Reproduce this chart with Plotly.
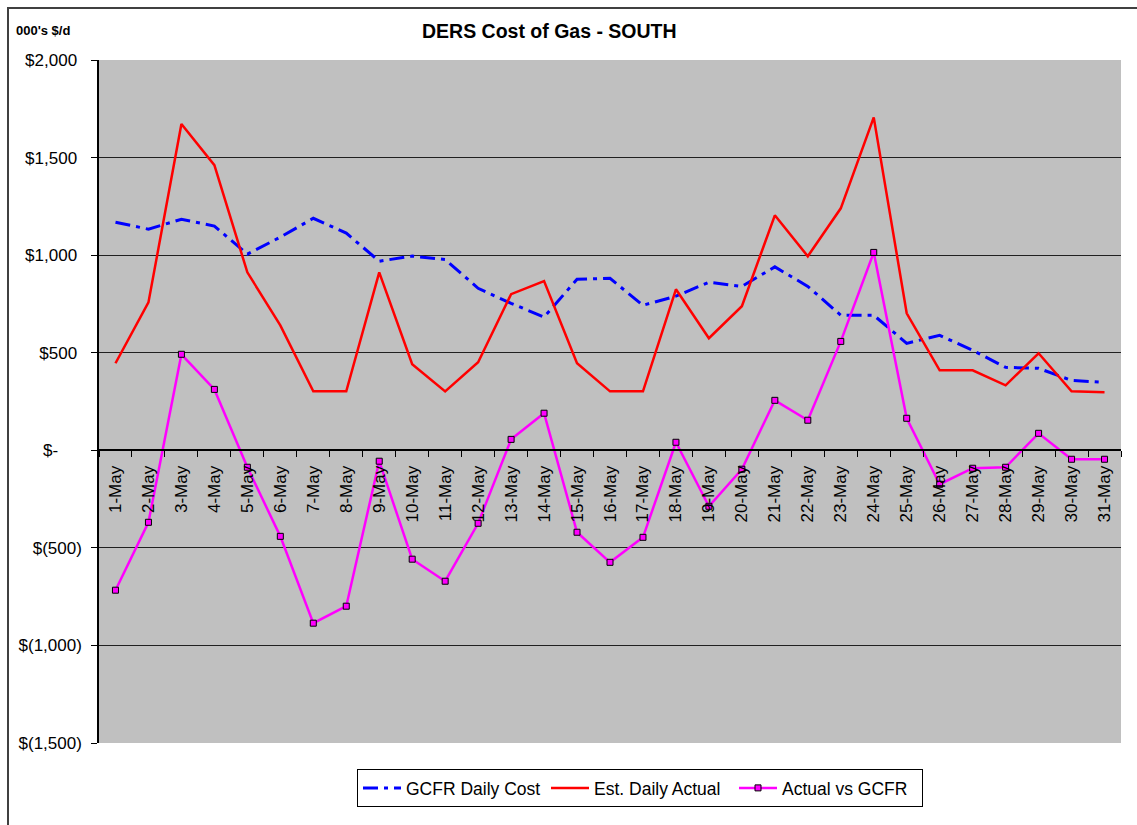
import plotly.graph_objects as go

days = [f"{d}-May" for d in range(1, 32)]

gcfr_daily_cost = [1169, 1133, 1184, 1149, 1005, 1092, 1189, 1113, 969, 995,
                   978, 830, 753, 683, 876, 881, 743, 790, 861, 840,
                   940, 840, 692, 692, 548, 589, 512, 425, 420, 358, 348]

est_daily_actual = [446, 758, 1672, 1461, 912, 640, 302, 302, 912, 441,
                    302, 451, 800, 867, 446, 302, 302, 825, 574, 738,
                    1204, 994, 1240, 1706, 702, 410, 410, 333, 497, 302, 297]

actual_vs_gcfr = [-717, -369, 492, 312, -87, -441, -886, -799, -56, -558,
                  -671, -374, 56, 190, -420, -574, -446, 41, -287, -97,
                  256, 154, 558, 1014, 164, -174, -92, -87, 87, -46, -46]

y_tickvals = [2000, 1500, 1000, 500, 0, -500, -1000, -1500]
y_ticktext = ["$2,000\u00a0", "$1,500\u00a0", "$1,000\u00a0", "$500\u00a0",
              "$-\u00a0\u00a0\u00a0\u00a0\u00a0", "$(500)", "$(1,000)", "$(1,500)"]

FONT = "Liberation Sans, Arial, sans-serif"

fig = go.Figure()
fig.add_trace(go.Scatter(
    x=days, y=gcfr_daily_cost, name="GCFR Daily Cost", mode="lines",
    line=dict(color="#0000FF", width=3, dash="15px,6px,4px,6px")))
fig.add_trace(go.Scatter(
    x=days, y=est_daily_actual, name="Est. Daily Actual", mode="lines",
    line=dict(color="#FF0000", width=2.5)))
fig.add_trace(go.Scatter(
    x=days, y=actual_vs_gcfr, name="Actual vs GCFR", mode="lines+markers",
    line=dict(color="#FF00FF", width=2.5),
    marker=dict(symbol="square", size=6, color="#FF00FF",
                line=dict(color="#000000", width=1))))

zero_pos = (0 - (-1500)) / (2000 - (-1500))

L, R, T, B = 99, 16, 60, 82
PW = 1137 - L - R
PH = 825 - T - B


def px_x(x):
    return (x - L) / PW


def px_y(y):
    return (825 - B - y) / PH


fig.update_layout(
    width=1137, height=825,
    margin=dict(l=L, r=R, t=T, b=B),
    paper_bgcolor="white", plot_bgcolor="#C0C0C0",
    font=dict(family=FONT, size=17, color="black"),
    showlegend=True,
    legend=dict(orientation="h", x=px_x(640), xanchor="center", y=px_y(769), yanchor="top",
                bordercolor="black", borderwidth=1, bgcolor="white",
                font=dict(size=17.5), itemwidth=38, tracegroupgap=0,
                entrywidth=135, entrywidthmode="pixels"),
    xaxis=dict(type="category", anchor="free", position=zero_pos,
               range=[-0.5, len(days) - 0.5], autorange=False,
               showline=True, linecolor="black", linewidth=1.5,
               ticks="outside", ticklen=6, tickcolor="black", tickson="boundaries",
               tickangle=-90, tickfont=dict(size=17), showgrid=False,
               ticklabelstandoff=8),
    yaxis=dict(range=[-1500, 2000], tickvals=y_tickvals, ticktext=y_ticktext,
               showline=True, linecolor="black", linewidth=1.5,
               ticks="outside", ticklen=6, tickcolor="black",
               showgrid=True, gridcolor="#202020", gridwidth=1,
               zeroline=False, tickfont=dict(size=17), ticklabelstandoff=6),
    annotations=[
        dict(text="<b>DERS Cost of Gas - SOUTH</b>", xref="paper", yref="paper",
             x=px_x(549.5), y=px_y(31), xanchor="center", yanchor="middle",
             showarrow=False, font=dict(size=19.5, family=FONT)),
        dict(text="<b>000's $/d</b>", xref="paper", yref="paper",
             x=px_x(14), y=px_y(30), xanchor="left", yanchor="middle",
             showarrow=False, font=dict(size=13, family=FONT)),
    ],
    shapes=[
        dict(type="rect", xref="paper", yref="paper",
             x0=px_x(8), x1=1.2, y0=-0.3, y1=px_y(8),
             line=dict(color="#404040", width=2), layer="below"),
    ],
)

fig.write_html(
    "out.html",
    config={"displayModeBar": False},
    post_script="document.body.style.margin='0';document.documentElement.style.overflow='hidden';",
)
